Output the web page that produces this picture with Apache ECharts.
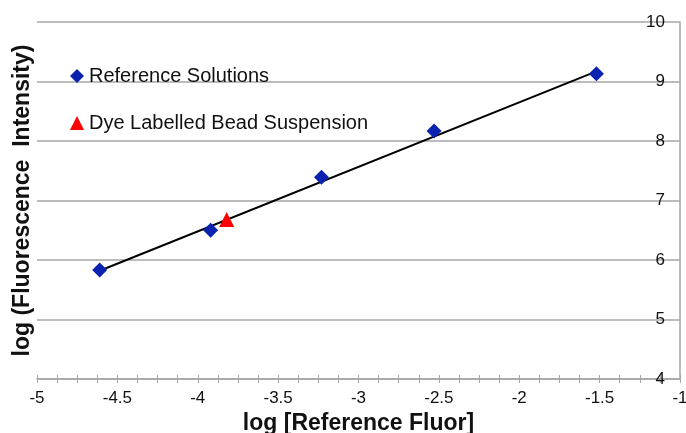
<!DOCTYPE html>
<html>
<head>
<meta charset="utf-8">
<script src="https://cdn.jsdelivr.net/npm/echarts@6/dist/echarts.min.js"></script>
<style>
  html, body { margin: 0; padding: 0; background: #fff; }
  #chart { width: 686px; height: 433px; }
</style>
</head>
<body>
<div id="chart"></div>
<script>
// reference solutions (blue diamonds)
const refX = [-4.61, -3.92, -3.23, -2.53, -1.52];
const refY = [5.83, 6.50, 7.39, 8.17, 9.13];
// dye labelled bead suspension (red triangle)
const beadX = [-3.82];
const beadY = [6.68];
// fitted line end points
const fitX = [-4.61, -1.52];
const fitY = [5.82, 9.17];

const xTicks = { min: -5, max: -1, interval: 0.5 };
const yTicks = { min: 4, max: 10, interval: 1 };

const font = 'Liberation Sans, Arial, sans-serif';
const gray = '#a6a6a6';

const chart = echarts.init(document.getElementById('chart'));

const option = {
  animation: false,
  grid: { left: 37, right: 6, top: 22, bottom: 54, outerBoundsMode: 'none' },
  legend: {
    orient: 'vertical',
    left: 65,
    top: 61,
    itemGap: 27,
    itemWidth: 14,
    itemHeight: 14,
    textStyle: { fontFamily: font, fontSize: 20, color: '#111' },
    data: [
      { name: 'Reference Solutions', icon: 'diamond' },
      { name: 'Dye Labelled Bead Suspension', icon: 'triangle' }
    ]
  },
  xAxis: [
    {
      type: 'value',
      min: xTicks.min, max: xTicks.max, interval: xTicks.interval,
      name: 'log [Reference Fluor]',
      nameLocation: 'middle',
      nameGap: 25,
      nameTextStyle: { fontFamily: font, fontSize: 23, fontWeight: 'bold', color: '#111' },
      axisLine: { lineStyle: { color: gray, width: 1.5 } },
      axisTick: { show: true, inside: false, length: 4, lineStyle: { color: gray } },
      minorTick: { show: true, splitNumber: 4, length: 4, lineStyle: { color: gray } },
      axisLabel: { fontFamily: font, fontSize: 17, color: '#111', margin: 11 },
      splitLine: { show: false }
    },
    {
      type: 'value',
      position: 'bottom',
      min: xTicks.min, max: xTicks.max, interval: xTicks.interval,
      axisLine: { show: false },
      axisTick: { show: true, inside: true, length: 4, lineStyle: { color: gray } },
      minorTick: { show: true, splitNumber: 4, length: 4, lineStyle: { color: gray } },
      axisLabel: { show: false },
      splitLine: { show: false }
    }
  ],
  yAxis: [
    {
      type: 'value',
      position: 'right',
      min: yTicks.min, max: yTicks.max, interval: yTicks.interval,
      axisLine: { show: true, lineStyle: { color: gray, width: 1.5 } },
      axisTick: { show: false },
      axisLabel: { inside: true, fontFamily: font, fontSize: 17, color: '#111', margin: 15 },
      splitLine: { show: true, lineStyle: { color: gray, width: 1.5 } }
    },
    {
      type: 'value',
      position: 'left',
      min: yTicks.min, max: yTicks.max, interval: yTicks.interval,
      name: 'log (Fluorescence  Intensity)',
      nameLocation: 'middle',
      nameGap: 3,
      nameTextStyle: { fontFamily: font, fontSize: 23, fontWeight: 'bold', color: '#111' },
      axisLine: { show: false },
      axisTick: { show: false },
      axisLabel: { show: false },
      splitLine: { show: false }
    }
  ],
  series: [
    {
      name: 'fit',
      type: 'line',
      data: fitX.map((x, i) => [x, fitY[i]]),
      showSymbol: false,
      lineStyle: { color: '#000', width: 2 },
      z: 2
    },
    {
      name: 'Reference Solutions',
      type: 'scatter',
      symbol: 'diamond',
      symbolSize: 15,
      itemStyle: { color: '#0a22b0', opacity: 1 },
      data: refX.map((x, i) => [x, refY[i]]),
      z: 3
    },
    {
      name: 'Dye Labelled Bead Suspension',
      type: 'scatter',
      symbol: 'triangle',
      symbolSize: 15,
      itemStyle: { color: '#ff0000', opacity: 1 },
      data: beadX.map((x, i) => [x, beadY[i]]),
      z: 4
    }
  ]
};

chart.setOption(option);
</script>
</body>
</html>
